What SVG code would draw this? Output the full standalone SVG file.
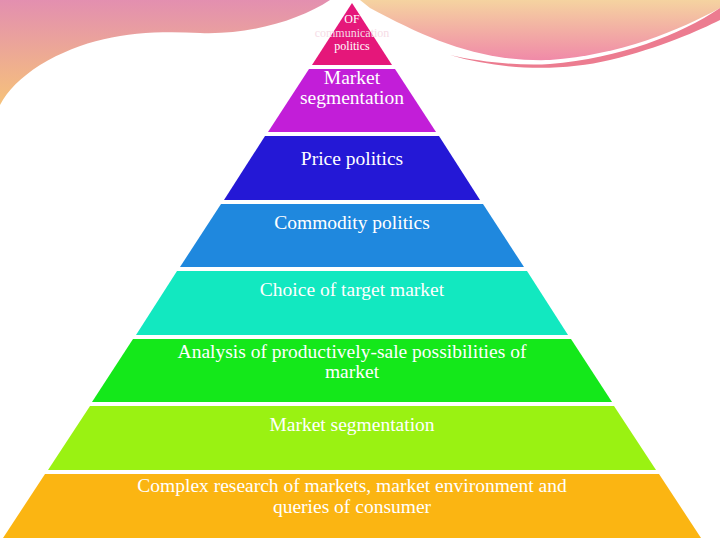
<svg xmlns="http://www.w3.org/2000/svg" width="720" height="540" viewBox="0 0 720 540">
<defs>
<linearGradient id="gl" x1="0" y1="0" x2="0" y2="1"><stop offset="0" stop-color="#e38fb0"/><stop offset="1" stop-color="#f6c27a"/></linearGradient>
<linearGradient id="gr" x1="0" y1="0" x2="0" y2="1"><stop offset="0" stop-color="#f5d3a0"/><stop offset="1" stop-color="#f08aa8"/></linearGradient>
</defs>
<style>
.t{font-family:"Liberation Serif",serif;font-size:19.5px;fill:#fff;text-anchor:middle}
.s{font-size:12px}
</style>
<rect width="720" height="540" fill="#fff"/>
<g id="background">
<path d="M0,0 H330 C300,20 250,35 200,33 C140,30 90,35 40,65 C20,78 8,90 0,105 Z" fill="url(#gl)"/>
<path d="M360,0 H720 V8 C680,30 620,55 550,60 C480,62 430,40 370,8 Z" fill="url(#gr)"/>
<path d="M720,8 C680,35 620,58 550,64 C520,66 480,62 450,55 C500,70 560,72 610,60 C660,48 700,30 720,20 Z" fill="#ec7c90"/>
</g>
<g id="tier1"><polygon points="352,3 392,65 312,65" fill="#e5177a"/><text class="t s" x="352" y="23">OF</text><text class="t s" x="352" y="37" style="fill:#f6dce6">communication</text><text class="t s" x="352" y="50">politics</text></g>
<g id="tier2"><polygon points="309,69 395,69 436,132 268,132" fill="#c21ed8"/><text class="t" x="352" y="84">Market</text><text class="t" x="352" y="104">segmentation</text></g>
<g id="tier3"><polygon points="265,136 439,136 480,200 224,200" fill="#2418d6"/><text class="t" x="352" y="165">Price politics</text></g>
<g id="tier4"><polygon points="221,204 483,204 524,267 180,267" fill="#1f88de"/><text class="t" x="352" y="229">Commodity politics</text></g>
<g id="tier5"><polygon points="177,271 527,271 568,335 136,335" fill="#12e8c0"/><text class="t" x="352" y="296">Choice of target market</text></g>
<g id="tier6"><polygon points="133,339 571,339 612,402 92,402" fill="#14e81a"/><text class="t" x="352" y="358">Analysis of productively-sale possibilities of</text><text class="t" x="352" y="378">market</text></g>
<g id="tier7"><polygon points="90,406 614,406 656,470 48,470" fill="#9af212"/><text class="t" x="352" y="431">Market segmentation</text></g>
<g id="tier8"><polygon points="45,474 659,474 701,538 3,538" fill="#fbb512"/><text class="t" x="352" y="492">Complex research of markets, market environment and</text><text class="t" x="352" y="513">queries  of consumer</text></g>
</svg>
